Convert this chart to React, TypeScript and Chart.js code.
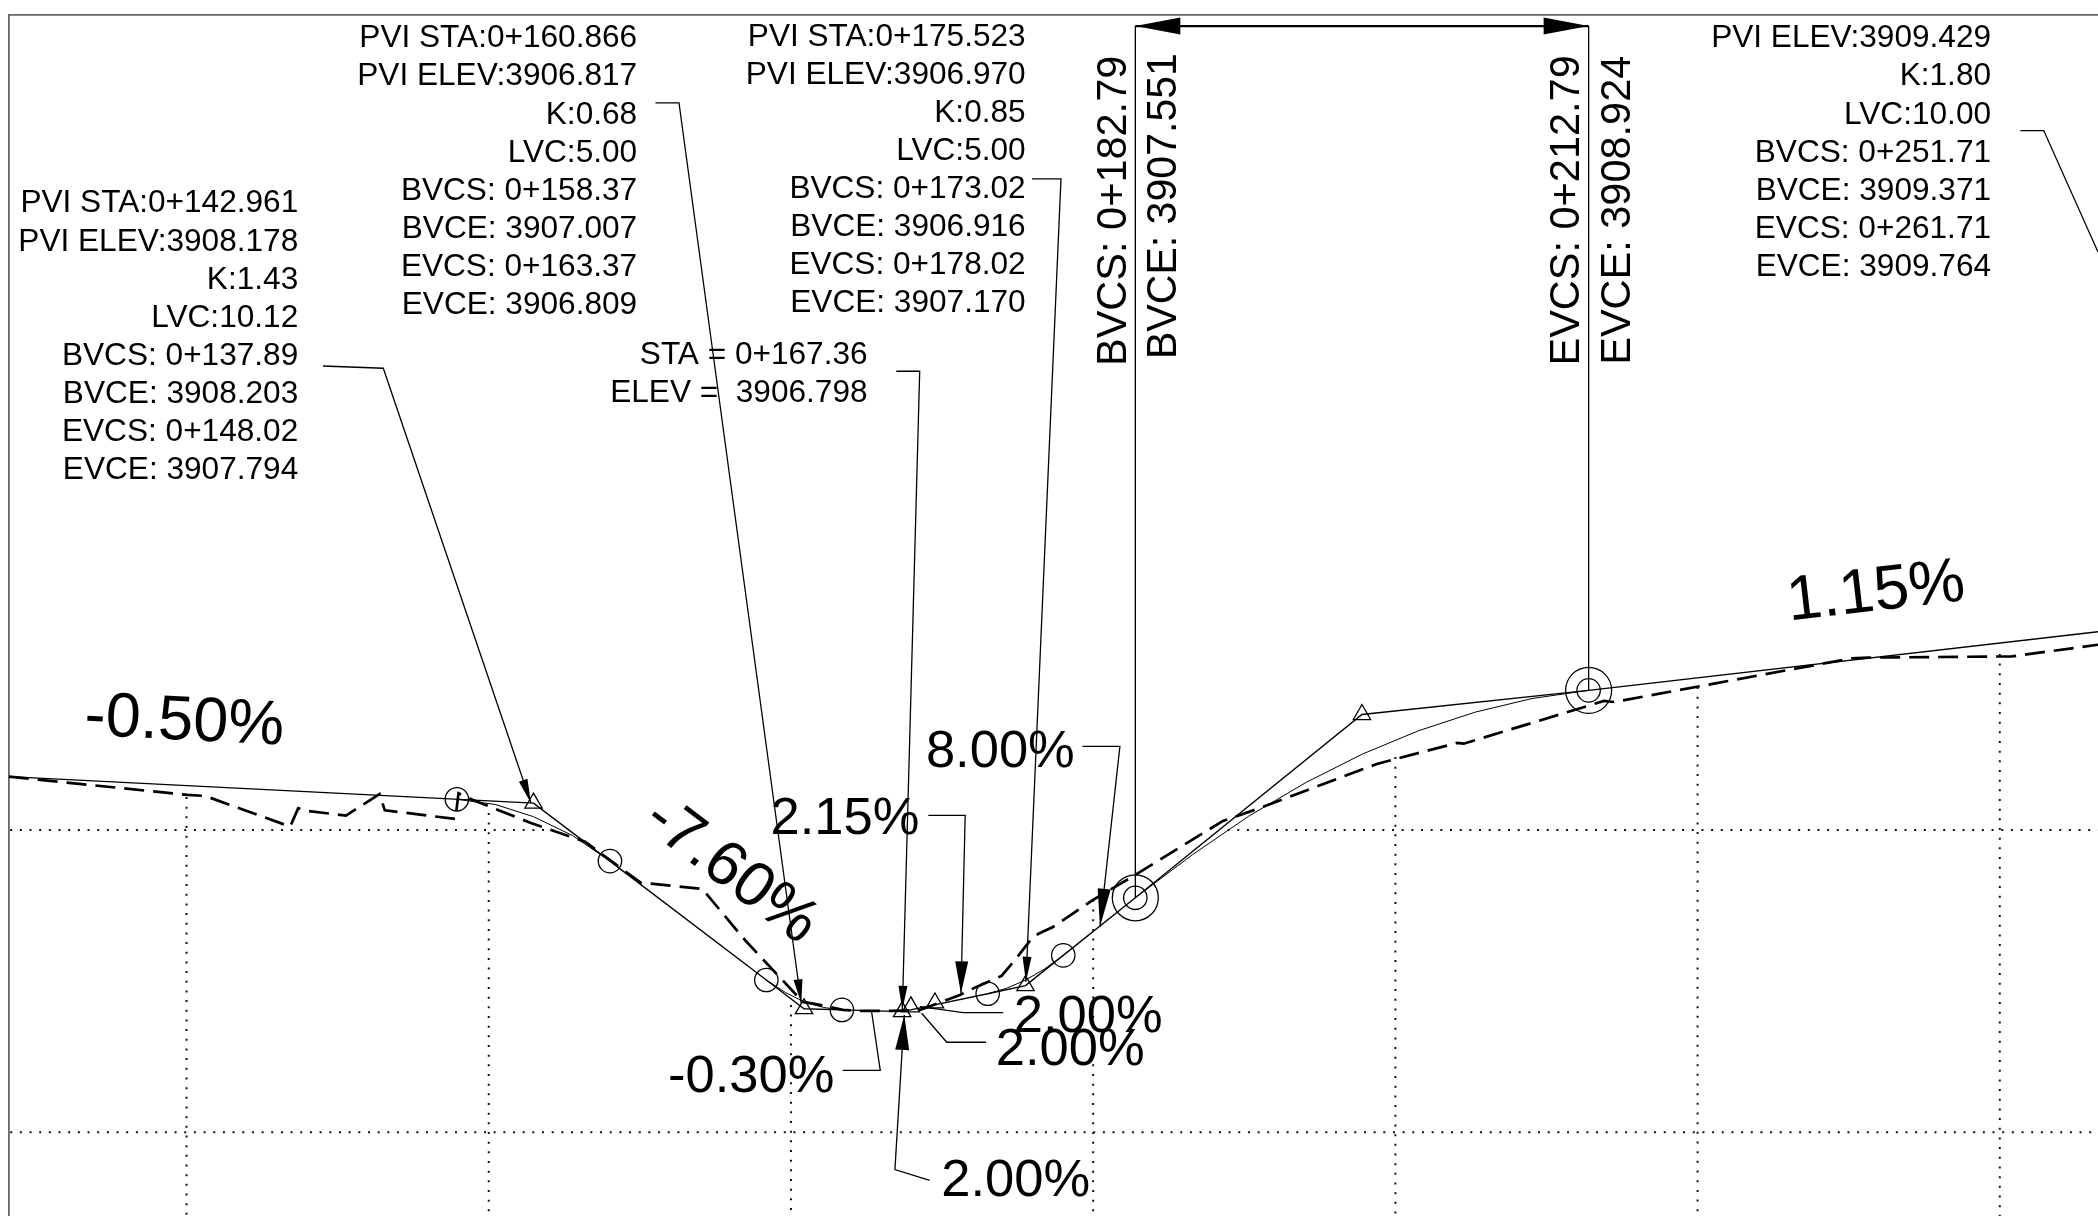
import React, { useEffect, useRef } from "react";
import { Chart, registerables } from "chart.js";

Chart.register(...registerables);

type P = [number, number];

// ---- axis extent (station m, elevation m) ----
const staRange: P = [108.23, 246.5];
const elevRange: P = [3905.445, 3913.396];

// ---- profile values ----
const existingGround: P[] = [
  [108.24, 3908.353], [120.06, 3908.232], [121.24, 3908.225], [126.86, 3908.022], [127.39, 3908.144],
  [128.03, 3908.126], [130.55, 3908.095], [132.77, 3908.238], [133.12, 3908.13], [137.79, 3908.073],
  [138.0, 3908.243], [138.95, 3908.199], [142.79, 3908.046], [146.37, 3907.923], [148.72, 3907.749],
  [150.05, 3907.651], [154.13, 3907.61], [157.01, 3907.265], [160.79, 3906.862], [161.92, 3906.842],
  [163.44, 3906.809], [164.76, 3906.802], [166.75, 3906.802], [168.54, 3906.809], [171.18, 3906.908],
  [172.31, 3906.963], [173.94, 3907.034], [174.93, 3907.153], [176.01, 3907.292], [176.48, 3907.318],
  [177.34, 3907.358], [179.99, 3907.537], [182.44, 3907.682], [188.59, 3908.06], [190.77, 3908.136],
  [198.77, 3908.437], [204.08, 3908.576], [204.52, 3908.571], [213.81, 3908.854], [214.47, 3908.847],
  [230.2, 3909.136], [231.28, 3909.141], [240.81, 3909.149], [246.5, 3909.226],
];
const tangents: P[] = [
  [108.24, 3908.353], [142.961, 3908.178], [148.02, 3907.794], [158.37, 3907.007], [160.866, 3906.817],
  [163.37, 3906.809], [167.36, 3906.798], [173.02, 3906.916], [175.523, 3906.97], [178.02, 3907.17],
  [182.79, 3907.551], [197.79, 3908.764], [212.79, 3908.924], [246.5, 3909.312],
];
const curveA: P[] = [[137.89, 3908.203], [140.46, 3908.168], [142.96, 3908.088], [145.53, 3907.964], [148.02, 3907.794]];
const curveB: P[] = [[158.37, 3907.007], [159.66, 3906.923], [160.87, 3906.862], [162.16, 3906.825], [163.37, 3906.809]];
const curveC: P[] = [[173.02, 3906.916], [174.27, 3906.952], [175.52, 3907.006], [176.77, 3907.079], [178.02, 3907.17]];
const curveD: P[] = [
  [182.79, 3907.551], [186.58, 3907.837], [190.29, 3908.091], [194.04, 3908.312], [197.79, 3908.501],
  [201.54, 3908.657], [205.29, 3908.78], [209.04, 3908.87], [212.79, 3908.924],
];
const pviTriangles: P[] = [
  [142.961, 3908.178], [160.866, 3906.817], [167.36, 3906.798], [167.94, 3906.829], [169.53, 3906.855],
  [175.523, 3906.97], [197.79, 3908.764],
];
const curveCircles: P[] = [
  [137.89, 3908.203], [148.02, 3907.794], [158.37, 3907.007], [163.37, 3906.809], [173.02, 3906.916],
  [178.02, 3907.17], [182.79, 3907.551], [212.79, 3908.924],
];
const majorCircles: P[] = [[182.79, 3907.551], [212.79, 3908.924]];

// ---- grid, only below the ground ----
const gridStations = [120, 140, 160, 180, 200, 220, 240];
const gridStationTops = [3908.218, 3908.113, 3906.842, 3907.537, 3908.483, 3908.946, 3909.165];
const gridElev3908: P[][] = [[[108.23, 3908], [144.4, 3908]], [[188.8, 3908], [246.5, 3908]]];
const gridElev3906: P[][] = [[[108.23, 3906], [246.5, 3906]]];

// ---- leaders ----
const leaders: P[][] = [
  [[129.03, 3911.071], [133.02, 3911.056], [142.79, 3908.179]],
  [[151.03, 3912.813], [152.59, 3912.813], [160.68, 3906.853]],
  [[166.97, 3911.036], [168.52, 3911.036], [167.37, 3906.809]],
  [[175.95, 3912.31], [177.87, 3912.31], [175.55, 3906.996]],
  [[169.09, 3908.097], [171.53, 3908.097], [171.25, 3906.918]],
  [[179.29, 3908.553], [181.77, 3908.553], [180.45, 3907.36]],
  [[163.43, 3906.409], [165.91, 3906.409], [165.33, 3906.802]],
  [[169.18, 3905.68], [166.88, 3905.752], [167.5, 3906.776]],
  [[174.05, 3906.791], [171.4, 3906.791], [168.54, 3906.831]],
  [[172.91, 3906.595], [170.31, 3906.595], [168.65, 3906.787]],
  [[241.36, 3912.629], [242.91, 3912.629], [246.5, 3911.825]],
  [[182.79, 3913.321], [182.79, 3907.551]],
  [[212.79, 3913.321], [212.79, 3908.924]],
];
const leaderArrows: (P | null)[] = [
  [24, 9], [24, 9], [24, 9], [25, 9], [32, 13], [38, 13], null, [35, 14], null, null, null, null, null,
];
const dimensionLine: P[] = [[182.79, 3913.321], [212.79, 3913.321]];

// ---- text ----
const block1 = ["PVI STA:0+142.961", "PVI ELEV:3908.178", "K:1.43", "LVC:10.12", "BVCS: 0+137.89", "BVCE: 3908.203", "EVCS: 0+148.02", "EVCE: 3907.794"];
const block2 = ["PVI STA:0+160.866", "PVI ELEV:3906.817", "K:0.68", "LVC:5.00", "BVCS: 0+158.37", "BVCE: 3907.007", "EVCS: 0+163.37", "EVCE: 3906.809"];
const block3 = ["PVI STA:0+175.523", "PVI ELEV:3906.970", "K:0.85", "LVC:5.00", "BVCS: 0+173.02", "BVCE: 3906.916", "EVCS: 0+178.02", "EVCE: 3907.170"];
const block4 = ["PVI ELEV:3909.429", "K:1.80", "LVC:10.00", "BVCS: 0+251.71", "BVCE: 3909.371", "EVCS: 0+261.71", "EVCE: 3909.764"];
const block5 = ["STA = 0+167.36", "ELEV =  3906.798"];
const textBlocks: { lines: string[]; at: P }[] = [
  { lines: block1, at: [127.39, 3912.087] },
  { lines: block2, at: [149.82, 3913.18] },
  { lines: block3, at: [175.53, 3913.191] },
  { lines: block4, at: [239.42, 3913.18] },
  { lines: block5, at: [165.07, 3911.082] },
];
const blockLineStep = 0.2522;

const sideLabels: { t: string; at: P; squeeze: number }[] = [
  { t: "BVCS: 0+182.79", at: [182.17, 3911.071], squeeze: 0.965 },
  { t: "BVCE: 3907.551", at: [185.48, 3911.117], squeeze: 0.955 },
  { t: "EVCS: 0+212.79", at: [212.17, 3911.074], squeeze: 0.965 },
  { t: "EVCE: 3908.924", at: [215.5, 3911.079], squeeze: 0.965 },
];
const gradeBig: { t: string; at: P; rot: number }[] = [
  { t: "-0.50%", at: [119.85, 3908.712], rot: 2.9 },
  { t: "-7.60%", at: [156.03, 3907.725], rot: 37.2 },
  { t: "1.15%", at: [231.81, 3909.568], rot: -6.6 },
];
const gradeSmall: { t: string; at: P }[] = [
  { t: "8.00%", at: [168.93, 3908.415] },
  { t: "2.15%", at: [158.65, 3907.974] },
  { t: "-0.30%", at: [151.86, 3906.265] },
  { t: "2.00%", at: [174.75, 3906.662] },
  { t: "2.00%", at: [173.55, 3906.447] },
  { t: "2.00%", at: [169.95, 3905.578] },
];

const FONT = '"Liberation Sans", Arial, sans-serif';
const pts = (a: P[]) => a.map(([x, y]) => ({ x, y }));

function head(ctx: CanvasRenderingContext2D, tip: any, from: any, len: number, w: number) {
  const dx = tip.x - from.x;
  const dy = tip.y - from.y;
  const d = Math.hypot(dx, dy) || 1;
  const ux = dx / d;
  const uy = dy / d;
  ctx.beginPath();
  ctx.moveTo(tip.x, tip.y);
  ctx.lineTo(tip.x - ux * len - uy * w / 2, tip.y - uy * len + ux * w / 2);
  ctx.lineTo(tip.x - ux * len + uy * w / 2, tip.y - uy * len - ux * w / 2);
  ctx.closePath();
  ctx.fill();
}

const annotate = {
  id: "annotate",
  afterDatasetsDraw(chart: any) {
    const { ctx, scales } = chart;
    const X = (v: number) => scales.x.getPixelForValue(v);
    const Y = (v: number) => scales.y.getPixelForValue(v);
    ctx.save();
    ctx.fillStyle = "#000";
    chart.data.datasets.forEach((ds: any, i: number) => {
      const el = chart.getDatasetMeta(i).data;
      if (ds.arrow) head(ctx, el[el.length - 1], el[el.length - 2], ds.arrow[0], ds.arrow[1]);
      if (ds.arrowStart) head(ctx, el[0], el[1], ds.arrowStart[0], ds.arrowStart[1]);
    });
    ctx.textBaseline = "alphabetic";
    ctx.textAlign = "right";
    ctx.font = `31.6px ${FONT}`;
    textBlocks.forEach((b) =>
      b.lines.forEach((l, i) => ctx.fillText(l, X(b.at[0]), Y(b.at[1] - i * blockLineStep)))
    );
    ctx.textAlign = "left";
    ctx.font = `52.5px ${FONT}`;
    gradeSmall.forEach((g) => ctx.fillText(g.t, X(g.at[0]), Y(g.at[1])));
    ctx.font = `43px ${FONT}`;
    sideLabels.forEach((s) => {
      ctx.save();
      ctx.translate(X(s.at[0]), Y(s.at[1]));
      ctx.rotate(-Math.PI / 2);
      ctx.scale(s.squeeze, 1);
      ctx.fillText(s.t, 0, 0);
      ctx.restore();
    });
    ctx.font = `63px ${FONT}`;
    ctx.textAlign = "center";
    ctx.textBaseline = "middle";
    gradeBig.forEach((g) => {
      ctx.save();
      ctx.translate(X(g.at[0]), Y(g.at[1]));
      ctx.rotate((g.rot * Math.PI) / 180);
      ctx.fillText(g.t, 0, 0);
      ctx.restore();
    });
    ctx.restore();
  },
};

const line = (label: string, data: P[], width: number, extra: any = {}) => ({
  label,
  data: pts(data),
  showLine: true,
  borderColor: "#000",
  borderWidth: width,
  pointRadius: 0,
  fill: false,
  tension: 0,
  ...extra,
});
const marks = (label: string, data: P[], style: string, radius: number) => ({
  label,
  data: pts(data),
  showLine: false,
  pointStyle: style,
  pointRadius: radius,
  pointBorderColor: "#000",
  pointBackgroundColor: "rgba(0,0,0,0)",
  pointBorderWidth: 1.3,
});

export default function App() {
  const ref = useRef<HTMLCanvasElement>(null);
  useEffect(() => {
    const dot = { borderDash: [2, 7.67], borderDashOffset: 8.2, borderColor: "#111" };
    const vdot = { borderDash: [2, 7.67], borderColor: "#111" };
    const datasets: any[] = [
      ...gridStations.map((s, i) =>
        line(`grid ${s}`, [[s, gridStationTops[i]], [s, elevRange[0]]], 2, vdot)
      ),
      ...[...gridElev3908, ...gridElev3906].map((g, i) => line(`grid h${i}`, g, 2, dot)),
      line("existing ground", existingGround, 2.7, { borderDash: [20, 9] }),
      line("tangents", tangents, 1.4),
      line("curve A", curveA, 1),
      line("curve B", curveB, 1),
      line("curve C", curveC, 1),
      line("curve D", curveD, 1),
      marks("PVI", pviTriangles, "triangle", 10),
      marks("curve ends", curveCircles, "circle", 11.7),
      marks("major ends", majorCircles, "circle", 23),
      ...leaders.map((l, i) => line(`leader ${i}`, l, 1.3, { arrow: leaderArrows[i] })),
      line("dimension", dimensionLine, 2.2, { arrow: [45, 17], arrowStart: [45, 17] }),
    ];
    const chart = new Chart(ref.current as HTMLCanvasElement, {
      type: "scatter",
      data: { datasets },
      plugins: [annotate],
      options: {
        animation: false,
        responsive: false,
        layout: { autoPadding: false, padding: { left: 8.7, top: 14.7, right: 0, bottom: 0 } },
        plugins: { legend: { display: false }, tooltip: { enabled: false } },
        scales: {
          x: {
            type: "linear",
            position: "top",
            min: staRange[0],
            max: staRange[1],
            grid: { display: false, drawTicks: false },
            ticks: { display: false },
            border: { display: true, color: "#666", width: 1.8 },
          },
          y: {
            type: "linear",
            position: "left",
            min: elevRange[0],
            max: elevRange[1],
            grid: { display: false, drawTicks: false },
            ticks: { display: false },
            border: { display: true, color: "#666", width: 1.8 },
          },
        },
      } as any,
    });
    return () => chart.destroy();
  }, []);
  return (
    <canvas
      ref={ref}
      width={2098}
      height={1216}
      style={{ position: "fixed", left: 0, top: 0, width: 2098, height: 1216, background: "#fff" }}
    />
  );
}
